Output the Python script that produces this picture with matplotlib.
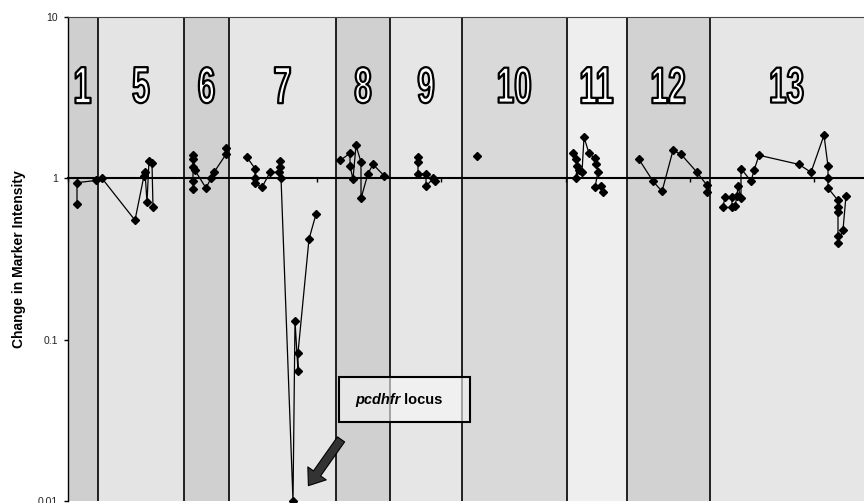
import matplotlib
matplotlib.use("Agg")
import matplotlib.pyplot as plt
import numpy as np
from matplotlib.font_manager import FontProperties
from matplotlib.patches import FancyArrowPatch, PathPatch, Rectangle
from matplotlib.textpath import TextPath
from matplotlib.transforms import Affine2D, IdentityTransform

plt.rcParams["font.family"] = ["Liberation Sans", "DejaVu Sans"]

# --- data: chromosome bands (x in arbitrary map units) ---
CHROM_NAMES = ["1", "5", "6", "7", "8", "9", "10", "11", "12", "13"]
CHROM_EDGES = [0, 30, 116, 161, 268, 322, 394, 499, 559, 642, 796]
BAND_COLORS = ["#cfcfcf", "#e4e4e4", "#d0d0d0", "#e6e6e6", "#d0d0d0",
               "#e6e6e6", "#d9d9d9", "#eeeeee", "#d2d2d2", "#e6e6e6"]

pos_1 = [9, 9, 28]
ratio_1 = [0.69, 0.94, 0.97]

pos_5 = [34, 67, 76, 77, 79, 81, 84, 85]
ratio_5 = [1.00, 0.55, 1.04, 1.10, 0.71, 1.28, 1.24, 0.66]

pos_6 = [125, 125, 125, 125, 125, 127, 138, 143, 146, 158, 158]
ratio_6 = [0.855, 0.96, 1.17, 1.31, 1.39, 1.12, 0.87, 1.00, 1.09, 1.41, 1.54]

pos_7 = [179, 187, 187, 187, 194, 202, 211, 212, 212, 213, 225, 227, 230, 230, 241, 248]
ratio_7 = [1.35, 1.15, 1.01, 0.93, 0.88, 1.09, 1.09, 1.28, 1.17, 1.01,
           0.01, 0.131, 0.064, 0.083, 0.42, 0.60]

pos_8 = [272, 282, 282, 285, 288, 293, 293, 300, 305, 316]
ratio_8 = [1.29, 1.43, 1.19, 0.99, 1.60, 1.26, 0.75, 1.07, 1.22, 1.04]

pos_9 = [350, 350, 350, 358, 358, 365, 367]
ratio_9 = [1.35, 1.26, 1.07, 1.06, 0.89, 1.00, 0.96]

pos_10 = [409]
ratio_10 = [1.37]

pos_11 = [505, 508, 509, 508, 511, 514, 516, 521, 527, 528, 530, 527, 533, 535]
ratio_11 = [1.43, 1.31, 1.19, 1.00, 1.12, 1.09, 1.80, 1.43, 1.33, 1.22,
            1.10, 0.88, 0.89, 0.82]

pos_12 = [571, 585, 594, 605, 613, 629, 639, 639]
ratio_12 = [1.31, 0.96, 0.83, 1.49, 1.41, 1.09, 0.905, 0.82]

pos_13 = [655, 657, 664, 664, 667, 669, 670, 673, 673, 683, 686, 691, 731,
          743, 756, 760, 760, 760, 770, 770, 770, 770, 770, 775, 778]
ratio_13 = [0.66, 0.77, 0.77, 0.66, 0.67, 0.78, 0.89, 0.75, 1.15, 0.96, 1.12,
            1.39, 1.22, 1.09, 1.85, 1.19, 1.00, 0.87, 0.73, 0.66, 0.615,
            0.44, 0.40, 0.48, 0.78]

SERIES = [(pos_1, ratio_1), (pos_5, ratio_5), (pos_6, ratio_6), (pos_7, ratio_7),
          (pos_8, ratio_8), (pos_9, ratio_9), (pos_10, ratio_10),
          (pos_11, ratio_11), (pos_12, ratio_12), (pos_13, ratio_13)]

Y_TICKS = [0.01, 0.1, 1, 10]
Y_TICK_LABELS = ["0.01", "0.1", "1", "10"]
X_TICK_STEP = 124.4
LABEL_Y = 3.78

fig = plt.figure(figsize=(8.64, 5.03), dpi=100)
ax = fig.add_axes([68 / 864, 2 / 503, 796 / 864, 484 / 503])
ax.set_yscale("log")
ax.set_xlim(CHROM_EDGES[0], CHROM_EDGES[-1])
ax.set_ylim(0.01, 10)

# bands + separators
for lo, hi, c in zip(CHROM_EDGES[:-1], CHROM_EDGES[1:], BAND_COLORS):
    ax.axvspan(lo, hi, color=c, lw=0, zorder=0)
for e in CHROM_EDGES[1:-1]:
    ax.axvline(e, color="black", lw=1.2, zorder=1)

# marker series
for xs, ys in SERIES:
    ax.plot(xs, ys, color="black", lw=0.9, marker="D", ms=4.2,
            mfc="black", mec="black", zorder=4, clip_on=False)

# axes styling: x axis crosses at 1
ax.spines["bottom"].set_position(("data", 1))
ax.spines["bottom"].set_linewidth(1.5)
ax.spines["right"].set_visible(False)
ax.spines["top"].set_color("#444444")
ax.spines["left"].set_linewidth(1.0)
ax.set_xticks(np.arange(0, CHROM_EDGES[-1], X_TICK_STEP))
ax.tick_params(axis="x", direction="out", length=3, width=1, labelbottom=False)
ax.set_yticks(Y_TICKS)
ax.set_yticklabels(Y_TICK_LABELS)
ax.minorticks_off()
ax.tick_params(axis="y", direction="out", length=3, width=1, labelsize=7.5,
               labelcolor="#222222", pad=4)
ax.set_ylabel("Change in Marker Intensity", fontsize=10, fontweight="bold",
              va="center")
ax.yaxis.set_label_coords(-0.062, 0.5)

# outlined, condensed chromosome numbers
fp = FontProperties(family="Liberation Sans", weight="bold")
for name, lo, hi in zip(CHROM_NAMES, CHROM_EDGES[:-1], CHROM_EDGES[1:]):
    tp = TextPath((0, 0), name, size=100, prop=fp)
    ext = tp.get_extents()
    sy = 36 / ext.height
    sx = sy * 0.62
    cx, cy = ax.transData.transform(((lo + hi) / 2, LABEL_Y))
    tr = (Affine2D().translate(-(ext.x0 + ext.x1) / 2, -(ext.y0 + ext.y1) / 2)
          .scale(sx, sy).translate(cx, cy))
    fig.add_artist(PathPatch(tr.transform_path(tp), facecolor="white",
                             edgecolor="black", lw=1.6, joinstyle="round",
                             transform=IdentityTransform(), zorder=5))

# locus callout
ax.add_patch(Rectangle((0.3405, 0.163), 0.1646, 0.093, transform=ax.transAxes,
                       facecolor=(0.97, 0.97, 0.97, 0.6), edgecolor="black",
                       lw=1.5, zorder=5))
t1 = ax.text(0.3606, 0.209, "pcdhfr", transform=ax.transAxes, fontsize=10.5,
             fontweight="bold", fontstyle="italic", va="center", ha="left",
             zorder=6)
ax.annotate(" locus", xy=(1, 0), xycoords=t1, va="bottom", ha="left",
            fontsize=10.5, fontweight="bold", zorder=6)
ax.add_patch(FancyArrowPatch((0.345, 0.132), (0.300, 0.027),
                             transform=ax.transAxes,
                             arrowstyle="simple,head_length=0.6,head_width=0.9,tail_width=0.35",
                             mutation_scale=18, facecolor="#333333",
                             edgecolor="black", lw=0.8, zorder=6))

fig.savefig("out.png", dpi=100, facecolor="white")
